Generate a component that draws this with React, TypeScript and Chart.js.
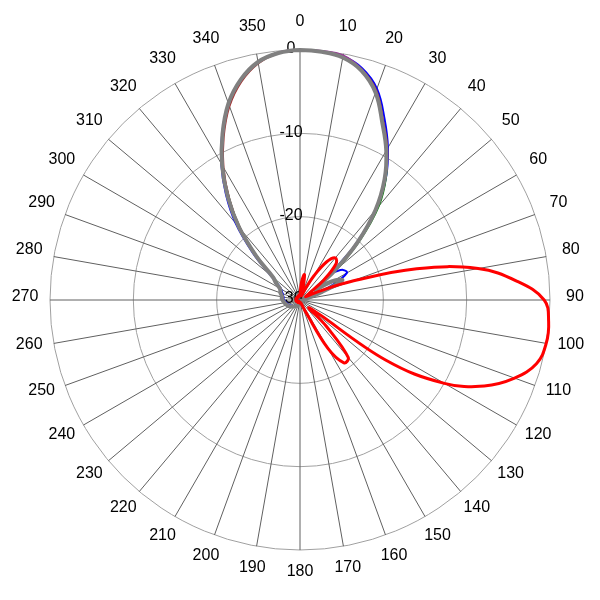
import React, { useEffect, useRef } from 'react';
import { Chart, registerables } from 'chart.js';

Chart.register(...registerables);

// Angles (degrees, clockwise from top) every 5 degrees
const angleLabels: string[] = [
  '0', '5', '10', '15', '20', '25', '30', '35', '40', '45', '50', '55',
  '60', '65', '70', '75', '80', '85', '90', '95', '100', '105', '110', '115',
  '120', '125', '130', '135', '140', '145', '150', '155', '160', '165', '170', '175',
  '180', '185', '190', '195', '200', '205', '210', '215', '220', '225', '230', '235',
  '240', '245', '250', '255', '260', '265', '270', '275', '280', '285', '290', '295',
  '300', '305', '310', '315', '320', '325', '330', '335', '340', '345', '350', '355',
];

// Radial tick labels (dB)
const radialTicks: number[] = [0, -10, -20, -30];

const seriesRed: number[] = [
  -29.3, -27.8, -26.9, -28.6, -29.5, -28.6, -26.6, -24.4, -23.4, -23.9,
  -26.3, -28.8, -29.2, -27.6, -23.5, -15.5, -8.3, -3.9, -0.7, -0.05,
  0, -0.6, -2.6, -5.6, -10.0, -17.4, -28.5, -25.5, -21.0, -20.8,
  -23.3, -28.5, -29.5, -29.6, -29.7, -29.7, -29.7, -29.6, -29.7, -29.8,
  -29.7, -29.7, -29.8, -29.7, -29.6, -29.7, -29.7, -29.6, -29.6, -29.7,
  -29.6, -29.5, -29.6, -29.6, -29.5, -29.6, -29.6, -29.5, -29.5, -29.6,
  -29.5, -29.6, -29.6, -29.5, -29.6, -29.6, -29.5, -29.6, -29.5, -29.4,
  -29.5, -29.4,
];

const seriesGray: number[] = [
  0, -0.1, -0.45, -1.5, -3.5, -6.6, -9.3, -12.3, -15.9, -20.3,
  -24.8, -27.8, -25.5, -24.4, -27.2, -29.0, -29.3, -29.5, -29.5, -29.6,
  -29.6, -29.7, -29.7, -29.7, -29.8, -29.8, -29.8, -29.8, -29.8, -29.8,
  -29.8, -29.8, -29.7, -29.7, -29.7, -29.7, -29.6, -29.6, -29.5, -29.5,
  -29.4, -29.3, -29.2, -29.1, -29.0, -28.9, -28.8, -28.6, -28.5, -28.4,
  -28.3, -28.2, -28.1, -28.0, -27.9, -27.8, -27.8, -27.7, -27.5, -27.4,
  -27.2, -26.5, -25.8, -22.6, -18.6, -14.9, -11.3, -8.0, -4.9, -2.6,
  -1.0, -0.25,
];

const seriesPurple: number[] = [
  0, 0, -0.2, -1.35, -3.4, -6.5, -9.3, -12.3, -15.9, -20.4,
  -24.9, -27.9, -25.6, -24.5, -27.3, -29.1, -29.4, -29.5, -29.6, -29.6,
  -29.7, -29.7, -29.7, -29.8, -29.8, -29.8, -29.8, -29.8, -29.8, -29.8,
  -29.8, -29.8, -29.7, -29.7, -29.7, -29.7, -29.6, -29.6, -29.5, -29.5,
  -29.4, -29.3, -29.2, -29.1, -29.0, -28.9, -28.8, -28.7, -28.6, -28.5,
  -28.4, -28.3, -28.2, -28.1, -28.0, -27.9, -27.9, -27.8, -27.6, -27.5,
  -27.3, -26.6, -25.9, -22.7, -18.7, -15.0, -11.4, -8.1, -5.0, -2.6,
  -1.0, -0.2,
];

const seriesBrown: number[] = [
  -0.05, -0.05, -0.4, -1.35, -3.2, -6.3, -9.0, -12.1, -15.8, -20.4,
  -25.0, -27.6, -25.4, -24.3, -27.3, -29.1, -29.4, -29.5, -29.6, -29.6,
  -29.7, -29.7, -29.7, -29.8, -29.8, -29.8, -29.8, -29.8, -29.8, -29.8,
  -29.8, -29.8, -29.7, -29.7, -29.7, -29.7, -29.6, -29.6, -29.5, -29.5,
  -29.4, -29.3, -29.2, -29.1, -29.0, -28.9, -28.8, -28.7, -28.6, -28.5,
  -28.4, -28.3, -28.2, -28.1, -28.0, -27.9, -27.9, -27.8, -27.6, -27.4,
  -27.0, -26.4, -26.0, -23.0, -19.0, -15.3, -11.7, -8.4, -5.3, -2.9,
  -1.2, -0.3,
];

const seriesGreen: number[] = [
  -0.05, -0.1, -0.45, -1.5, -3.5, -6.6, -9.2, -12.0, -15.3, -19.8,
  -24.2, -27.5, -25.8, -24.9, -27.8, -29.2, -29.4, -29.5, -29.6, -29.6,
  -29.7, -29.7, -29.7, -29.8, -29.8, -29.8, -29.8, -29.8, -29.8, -29.8,
  -29.8, -29.8, -29.7, -29.7, -29.7, -29.7, -29.6, -29.6, -29.5, -29.5,
  -29.4, -29.3, -29.2, -29.1, -29.0, -28.9, -28.8, -28.7, -28.6, -28.5,
  -28.4, -28.3, -28.2, -28.1, -28.0, -27.9, -27.9, -27.8, -27.6, -27.5,
  -27.3, -26.7, -26.0, -22.9, -18.9, -15.2, -11.5, -8.2, -5.1, -2.7,
  -1.05, -0.25,
];

const seriesBlue: number[] = [
  -0.05, -0.05, -0.3, -1.2, -3.0, -6.0, -8.9, -12.0, -15.7, -20.6,
  -24.6, -23.7, -23.5, -25.6, -28.4, -29.3, -29.5, -29.6, -29.6, -29.7,
  -29.7, -29.7, -29.8, -29.8, -29.8, -29.8, -29.8, -29.8, -29.8, -29.8,
  -29.8, -29.8, -29.8, -29.7, -29.7, -29.7, -29.7, -29.6, -29.6, -29.5,
  -29.5, -29.4, -29.3, -29.2, -29.1, -29.0, -28.9, -28.8, -28.7, -28.6,
  -28.5, -28.4, -28.3, -28.2, -28.1, -28.0, -28.0, -27.9, -27.8, -27.6,
  -27.4, -26.8, -25.4, -22.0, -18.0, -14.5, -11.1, -7.9, -4.9, -2.6,
  -1.0, -0.25,
];

const FONT = '16px "Liberation Sans", Arial, sans-serif';

const polarTextPlugin = {
  id: 'polarText',
  beforeDatasetsDraw(chart: any) {
    const scale = chart.scales.r;
    const ctx = chart.ctx as CanvasRenderingContext2D;
    ctx.save();
    ctx.font = FONT;
    ctx.fillStyle = '#000000';
    ctx.textAlign = 'center';
    ctx.textBaseline = 'middle';
    const labels = chart.data.labels as string[];
    labels.forEach((lab, i) => {
      if (i % 2 !== 0) return;
      const p = scale.getPointPosition(i, scale.drawingArea + 25);
      ctx.fillText(lab, p.x, p.y - 3);
    });
    radialTicks.forEach((v) => {
      const d = scale.getDistanceFromCenterForValue(v);
      ctx.fillText(String(v), scale.xCenter - 9, scale.yCenter - d - 1);
    });
    ctx.restore();
  },
};

export default function App() {
  const ref = useRef<HTMLCanvasElement>(null);
  useEffect(() => {
    if (!ref.current) return;
    const mk = (label: string, data: number[], color: string, width: number) => ({
      label,
      data,
      borderColor: color,
      backgroundColor: color,
      borderWidth: width,
      pointRadius: 0,
      pointHoverRadius: 0,
      fill: false,
      tension: 0.4,
      borderJoinStyle: 'round' as const,
    });
    const chart = new Chart(ref.current, {
      type: 'radar',
      data: {
        labels: angleLabels,
        datasets: [
          mk('Red', seriesRed, '#ff0000', 3),
          mk('Gray', seriesGray, '#808080', 4),
          mk('Purple', seriesPurple, '#993399', 2),
          mk('Brown', seriesBrown, '#a33030', 1.5),
          mk('Green', seriesGreen, '#008000', 2),
          mk('Blue', seriesBlue, '#0000ff', 2),
        ],
      },
      options: {
        responsive: false,
        animation: false,
        layout: { padding: 42 },
        plugins: {
          legend: { display: false },
          tooltip: { enabled: false },
        },
        scales: {
          r: {
            min: -30,
            max: 0,
            ticks: { display: false, stepSize: 10 },
            pointLabels: { display: false },
            grid: { circular: true, color: '#a0a0a0', lineWidth: 1 },
            angleLines: {
              display: true,
              color: (c: any) => (c.index % 2 === 0 ? '#606060' : 'rgba(0,0,0,0)'),
              lineWidth: (c: any) => (c.index % 2 === 0 ? 1 : 0),
            },
          },
        },
      },
      plugins: [polarTextPlugin],
    });
    return () => chart.destroy();
  }, []);
  return (
    <div style={{ width: 584, height: 584 }}>
      <canvas ref={ref} width={584} height={584} style={{ display: 'block' }} />
    </div>
  );
}
